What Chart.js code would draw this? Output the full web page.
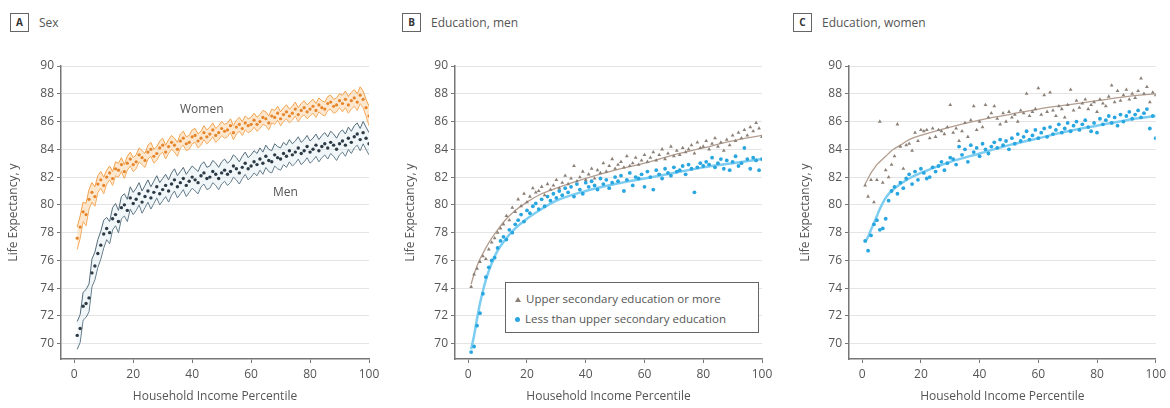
<!DOCTYPE html>
<html>
<head>
<meta charset="utf-8">
<script src="https://cdn.jsdelivr.net/npm/chart.js@4.4.1/dist/chart.umd.min.js"></script>
<style>
  html, body { margin: 0; padding: 0; background: #fff; }
  body { width: 1170px; height: 408px; position: relative; overflow: hidden;
         font-family: "Open Sans", "DejaVu Sans", sans-serif; color: #555; }
  canvas { position: absolute; top: 0; }
  .hdr { position: absolute; top: 12px; height: 20px; display: flex; align-items: center;
         font-size: 12px; color: #555; white-space: nowrap; }
  .hdr .box { width: 19px; height: 19px; border: 1px solid #666; box-sizing: border-box;
              font-weight: bold; font-size: 10px; color: #333; display: flex;
              align-items: center; justify-content: center; margin-right: 10px; }
  .lbl { position: absolute; font-size: 12px; color: #555; line-height: 14px; white-space: nowrap; }
  .legend { position: absolute; left: 505px; top: 282px; width: 254px; height: 51px;
            border: 1px solid #666; box-sizing: border-box; background: #fff;
            font-size: 11.5px; color: #555; }
  .legend .row { position: absolute; left: 9px; height: 14px; line-height: 14px;
                 display: flex; align-items: center; white-space: nowrap; }
  .legend .tri { width: 0; height: 0; border-left: 3px solid transparent;
                 border-right: 3px solid transparent; border-bottom: 5px solid #8a8078; margin-right: 5px; }
  .legend .dot { width: 5px; height: 5px; border-radius: 50%; background: #29a6df; margin-right: 5px; }
</style>
</head>
<body>
<div class="hdr" style="left:10px"><span class="box">A</span>Sex</div>
<div class="hdr" style="left:402px"><span class="box">B</span>Education, men</div>
<div class="hdr" style="left:793px"><span class="box">C</span>Education, women</div>

<canvas id="chartA" width="390" height="408" style="left:0"></canvas>
<canvas id="chartB" width="390" height="408" style="left:390px"></canvas>
<canvas id="chartC" width="390" height="408" style="left:780px"></canvas>

<div class="lbl" style="left:180px; top:102px">Women</div>
<div class="lbl" style="left:273px; top:185px">Men</div>

<div class="legend">
  <div class="row" style="top:9px"><span class="tri"></span>Upper secondary education or more</div>
  <div class="row" style="top:29px"><span class="dot"></span>Less than upper secondary education</div>
</div>

<script>
// Household income percentiles (x positions of every point)
const percentiles = [
  1, 2, 3, 4, 5, 6, 7, 8, 9, 10, 11, 12, 13, 14, 15, 16, 17, 18, 19, 20,
  21, 22, 23, 24, 25, 26, 27, 28, 29, 30, 31, 32, 33, 34, 35, 36, 37, 38, 39, 40,
  41, 42, 43, 44, 45, 46, 47, 48, 49, 50, 51, 52, 53, 54, 55, 56, 57, 58, 59, 60,
  61, 62, 63, 64, 65, 66, 67, 68, 69, 70, 71, 72, 73, 74, 75, 76, 77, 78, 79, 80,
  81, 82, 83, 84, 85, 86, 87, 88, 89, 90, 91, 92, 93, 94, 95, 96, 97, 98, 99, 100
];

const xTicks = [0, 20, 40, 60, 80, 100];
const yTicks = [70, 72, 74, 76, 78, 80, 82, 84, 86, 88, 90];

// Panel A: life expectancy by sex, with confidence bands
const womenMid = [
  77.6, 78.4, 79.5, 79.3, 80.4, 80.9, 80.6, 81.5, 81.8, 81.4,
  82.0, 82.3, 81.9, 82.6, 82.5, 82.9, 82.4, 83.0, 83.3, 82.9,
  83.1, 83.6, 83.4, 83.2, 83.8, 84.0, 83.5, 83.7, 84.1, 84.3,
  83.8, 84.2, 84.5, 84.3, 84.0, 84.6, 84.8, 84.4, 84.5, 84.9,
  85.0, 84.6, 84.8, 85.2, 84.9, 85.1, 85.4, 85.0, 85.2, 85.5,
  85.3, 85.4, 85.7, 85.2, 85.6, 85.8, 85.5, 85.9, 85.7, 85.8,
  86.1, 85.8, 86.0, 86.3, 86.2, 85.9, 86.4, 86.3, 86.6, 86.2,
  86.5, 86.7, 86.4, 86.6, 86.9, 86.5, 86.8, 87.0, 86.7, 86.9,
  87.1, 86.8, 87.2, 87.0, 86.9, 87.3, 87.4, 87.1, 87.2, 87.5,
  87.3, 87.6, 87.2, 87.5, 87.7, 87.4, 87.9, 87.6, 87.0, 86.4
];
const womenHigh = [
  78.4, 79.2, 80.2, 80.1, 81.1, 81.6, 81.3, 82.1, 82.4, 82.0,
  82.5, 82.8, 82.4, 83.1, 83.0, 83.4, 82.9, 83.5, 83.8, 83.4,
  83.6, 84.1, 83.9, 83.7, 84.3, 84.5, 84.0, 84.2, 84.6, 84.8,
  84.3, 84.7, 85.0, 84.8, 84.5, 85.1, 85.3, 84.9, 85.0, 85.4,
  85.5, 85.1, 85.3, 85.7, 85.4, 85.6, 85.9, 85.5, 85.7, 86.0,
  85.8, 85.9, 86.2, 85.7, 86.1, 86.3, 86.0, 86.4, 86.2, 86.3,
  86.6, 86.3, 86.5, 86.8, 86.7, 86.4, 86.9, 86.8, 87.1, 86.7,
  87.0, 87.2, 86.9, 87.1, 87.4, 87.0, 87.3, 87.5, 87.2, 87.4,
  87.6, 87.3, 87.7, 87.5, 87.4, 87.8, 87.9, 87.6, 87.7, 88.0,
  87.9, 88.2, 87.8, 88.1, 88.3, 88.0, 88.5, 88.2, 87.6, 87.1
];
const womenLow = [
  76.8, 77.6, 78.8, 78.5, 79.7, 80.2, 79.9, 80.9, 81.2, 80.8,
  81.5, 81.8, 81.4, 82.1, 82.0, 82.4, 81.9, 82.5, 82.8, 82.4,
  82.6, 83.1, 82.9, 82.7, 83.3, 83.5, 83.0, 83.2, 83.6, 83.8,
  83.3, 83.7, 84.0, 83.8, 83.5, 84.1, 84.3, 83.9, 84.0, 84.4,
  84.5, 84.1, 84.3, 84.7, 84.4, 84.6, 84.9, 84.5, 84.7, 85.0,
  84.8, 84.9, 85.2, 84.7, 85.1, 85.3, 85.0, 85.4, 85.2, 85.3,
  85.6, 85.3, 85.5, 85.8, 85.7, 85.4, 85.9, 85.8, 86.1, 85.7,
  86.0, 86.2, 85.9, 86.1, 86.4, 86.0, 86.3, 86.5, 86.2, 86.4,
  86.6, 86.3, 86.7, 86.5, 86.4, 86.8, 86.9, 86.6, 86.7, 87.0,
  86.7, 87.0, 86.6, 86.9, 87.1, 86.8, 87.3, 87.0, 86.4, 85.7
];
const menMid = [
  70.6, 71.1, 72.7, 72.9, 73.3, 75.1, 75.6, 76.5, 77.1, 77.9,
  78.3, 78.0, 79.0, 79.3, 78.8, 79.8, 80.0, 79.6, 80.5, 80.1,
  80.4, 80.8, 80.2, 80.6, 81.0, 80.5, 80.9, 81.3, 80.8, 81.1,
  81.4, 81.0, 81.5, 81.8, 81.3, 81.6, 81.9, 81.4, 81.7, 82.0,
  81.8, 81.6, 82.1, 82.3, 81.9, 82.0, 82.4, 82.2, 81.9, 82.3,
  82.5, 82.2, 82.4, 82.8, 82.6, 82.3, 82.7, 83.0, 82.6, 82.8,
  83.1, 82.9, 83.3, 83.0, 83.5, 83.2, 83.1, 83.6, 83.4, 83.3,
  83.7, 83.5, 83.9, 83.6, 83.8, 84.1, 83.7, 83.9, 84.2, 83.8,
  84.0, 84.3, 83.9, 84.2, 84.4, 84.1, 84.5, 84.3, 84.0, 84.4,
  84.6, 84.3, 84.8, 84.5, 84.9, 85.1, 84.7, 85.2, 84.8, 84.4
];
const menHigh = [
  71.6, 72.1, 73.7, 73.9, 74.3, 76.1, 76.6, 77.5, 78.1, 78.9,
  79.1, 78.8, 79.8, 80.1, 79.6, 80.6, 80.8, 80.4, 81.3, 80.9,
  81.2, 81.6, 81.0, 81.4, 81.8, 81.3, 81.7, 82.1, 81.6, 81.9,
  82.2, 81.8, 82.3, 82.6, 82.1, 82.4, 82.7, 82.2, 82.5, 82.8,
  82.6, 82.4, 82.9, 83.1, 82.7, 82.8, 83.2, 83.0, 82.7, 83.1,
  83.3, 83.0, 83.2, 83.6, 83.4, 83.1, 83.5, 83.8, 83.4, 83.6,
  83.9, 83.7, 84.1, 83.8, 84.3, 84.0, 83.9, 84.4, 84.2, 84.1,
  84.5, 84.3, 84.7, 84.4, 84.6, 84.9, 84.5, 84.7, 85.0, 84.6,
  84.8, 85.1, 84.7, 85.0, 85.2, 84.9, 85.3, 85.1, 84.8, 85.2,
  85.4, 85.1, 85.6, 85.3, 85.7, 85.9, 85.5, 86.0, 85.6, 85.2
];
const menLow = [
  69.6, 70.1, 71.7, 71.9, 72.3, 74.1, 74.6, 75.5, 76.1, 76.9,
  77.5, 77.2, 78.2, 78.5, 78.0, 79.0, 79.2, 78.8, 79.7, 79.3,
  79.6, 80.0, 79.4, 79.8, 80.2, 79.7, 80.1, 80.5, 80.0, 80.3,
  80.6, 80.2, 80.7, 81.0, 80.5, 80.8, 81.1, 80.6, 80.9, 81.2,
  81.0, 80.8, 81.3, 81.5, 81.1, 81.2, 81.6, 81.4, 81.1, 81.5,
  81.7, 81.4, 81.6, 82.0, 81.8, 81.5, 81.9, 82.2, 81.8, 82.0,
  82.3, 82.1, 82.5, 82.2, 82.7, 82.4, 82.3, 82.8, 82.6, 82.5,
  82.9, 82.7, 83.1, 82.8, 83.0, 83.3, 82.9, 83.1, 83.4, 83.0,
  83.2, 83.5, 83.1, 83.4, 83.6, 83.3, 83.7, 83.5, 83.2, 83.6,
  83.8, 83.5, 84.0, 83.7, 84.1, 84.3, 83.9, 84.4, 84.0, 83.6
];

// Panel B: men by education
const menUpperSec = [
  74.1, 75.0, 75.4, 75.9, 76.3, 76.1, 76.8, 77.3, 77.6, 78.0,
  78.3, 78.6, 79.2, 78.9, 79.8, 79.5, 80.4, 79.9, 80.8, 80.2,
  80.6, 81.2, 80.9, 81.0, 81.3, 80.7, 81.5, 81.1, 81.4, 81.8,
  81.2, 81.6, 82.1, 81.5, 81.9, 82.8, 81.7, 82.0, 82.4, 81.8,
  82.2, 82.6, 81.9, 82.5, 82.3, 83.0, 82.4, 82.8, 83.3, 82.6,
  82.9, 83.1, 82.7, 83.5, 82.8, 83.0, 83.4, 82.9, 83.2, 83.6,
  83.1, 83.4, 83.8, 83.2, 83.6, 84.0, 83.3, 83.7, 84.2, 83.5,
  83.9, 83.6, 84.1, 83.8, 84.0, 84.3, 83.7, 84.5, 84.1, 84.2,
  84.6, 84.0, 84.4, 84.8, 84.2, 84.5, 83.9, 84.7, 84.3, 85.0,
  84.6, 85.2, 84.8, 85.4, 85.0, 85.6, 85.3, 85.9, 85.5, 84.9
];
const menLessSec = [
  69.4, 69.8, 71.3, 72.2, 73.6, 74.8, 75.5, 76.0, 76.2, 76.9,
  77.4, 77.7, 77.5, 78.2, 78.0, 78.6, 78.9, 79.3, 78.8, 79.6,
  79.4, 79.9, 80.1, 79.7, 80.4, 79.9, 80.6, 80.3, 80.8, 80.5,
  81.0, 80.7, 81.2, 80.9, 81.3, 80.6, 81.5, 81.1, 80.8, 81.6,
  81.3, 81.7, 81.4, 81.1, 81.9, 81.5, 81.8, 81.2, 81.6, 82.0,
  81.7, 82.1, 81.0, 81.8, 82.3, 81.4, 82.0, 81.9, 82.2, 81.3,
  82.4, 82.0, 81.1, 82.5, 82.2, 81.9, 82.6, 82.3, 82.1, 82.7,
  82.4, 82.5, 82.8, 82.2, 82.9, 82.6, 80.9, 82.7, 83.0, 82.8,
  83.1, 82.9, 83.4, 82.7, 83.0, 83.3, 82.6, 83.2, 82.5, 83.1,
  83.5, 82.8, 83.0, 84.1, 83.3, 82.6, 83.4, 83.2, 82.5, 83.3
];
const menFitPct      = [1, 2, 3, 4, 5, 6, 8, 10, 13, 16, 20, 25, 30, 40, 50, 60, 70, 80, 90, 100];
const menUpperFit    = [74.3, 75.0, 75.6, 76.1, 76.5, 76.9, 77.6, 78.2, 79.0, 79.6, 80.2, 80.8, 81.2, 81.9, 82.5, 83.0, 83.6, 84.1, 84.6, 85.0];
const menLessFit     = [69.6, 70.6, 71.8, 72.9, 73.8, 74.6, 75.8, 76.7, 77.6, 78.3, 79.0, 79.7, 80.3, 81.0, 81.5, 81.9, 82.3, 82.7, 83.0, 83.3];

// Panel C: women by education
const womenUpperSec = [
  81.4, 80.6, 81.8, 80.2, 81.8, 86.0, 81.6, 82.5, 82.0, 82.9,
  83.5, 85.8, 84.2, 82.6, 84.3, 84.4, 83.9, 85.2, 84.6, 85.4,
  85.3, 85.4, 84.8, 85.5, 84.9, 85.4, 85.3, 85.1, 85.6, 87.2,
  85.2, 85.5, 84.6, 85.3, 85.9, 84.9, 86.1, 87.1, 85.4, 86.0,
  85.6, 87.2, 86.3, 86.6, 87.1, 86.2, 85.8, 86.6, 86.0, 86.7,
  86.3, 86.5, 86.0, 86.8, 86.6, 88.0, 86.4, 86.7, 86.9, 88.4,
  86.5, 87.9, 86.7, 88.1, 86.8, 86.4, 87.1, 86.9, 86.3, 87.2,
  88.3, 86.8, 87.5, 87.0, 87.3, 87.6, 86.9, 87.2, 87.4, 86.7,
  87.6, 87.3, 87.1, 87.8, 88.6, 87.4, 88.2, 87.5, 87.9, 88.3,
  87.6, 88.0, 87.7, 88.2, 89.1, 88.0, 88.5, 87.4, 88.1, 87.9
];
const womenLessSec = [
  77.4, 76.7, 77.8, 78.6, 78.9, 78.2, 78.3, 79.0, 80.3, 81.0,
  81.3, 80.8, 81.6, 81.2, 81.9, 82.2, 81.5, 82.4, 81.8, 82.6,
  82.3, 81.9, 82.0, 82.7, 82.4, 82.8, 83.1, 82.5, 83.0, 83.4,
  83.3, 82.9, 84.2, 83.6, 84.0, 83.1, 84.3, 83.8, 84.1, 83.5,
  84.4, 84.0, 83.7, 84.2, 84.5, 84.1, 84.7, 84.3, 84.6, 84.0,
  84.8, 84.4, 85.1, 84.6, 84.9, 85.3, 84.7, 85.0, 85.4, 84.8,
  85.2, 85.5, 84.9, 85.6, 85.1, 85.4, 85.8, 85.2, 85.5, 85.9,
  85.3, 85.7, 86.0, 85.4, 85.8, 86.1, 85.6, 85.3, 85.9, 85.2,
  86.2, 85.8, 86.1, 86.4, 85.9, 86.3, 85.7, 86.5, 86.0, 86.4,
  86.7, 86.2, 86.5, 86.8, 86.3, 86.6, 86.9, 85.5, 86.4, 84.8
];
const womenFitPct    = [1, 2, 3, 4, 5, 6, 8, 10, 13, 16, 20, 30, 40, 50, 60, 70, 80, 90, 100];
const womenUpperFit  = [81.5, 81.9, 82.3, 82.6, 82.9, 83.1, 83.5, 83.9, 84.3, 84.7, 85.0, 85.6, 86.1, 86.5, 86.9, 87.2, 87.5, 87.8, 88.0];
const womenLessFit   = [77.3, 77.7, 78.2, 78.7, 79.2, 79.7, 80.5, 81.0, 81.5, 81.9, 82.3, 83.1, 83.7, 84.3, 84.8, 85.3, 85.7, 86.1, 86.4];

const FONT = { family: '"Open Sans", "DejaVu Sans", sans-serif', size: 12 };
const TEXT = '#555';

function pts(xs, ys) { return ys.map((y, i) => ({ x: xs[i], y })); }

function panelOptions(yWidth, yTitlePad, rightPad) {
  return {
    responsive: false,
    animation: false,
    devicePixelRatio: 1,
    layout: { padding: { top: 66, left: 0, right: rightPad, bottom: 0 } },
    plugins: { legend: { display: false }, tooltip: { enabled: false } },
    elements: { line: { tension: 0 } },
    scales: {
      x: {
        type: 'linear', min: -4.5, max: 100,
        afterBuildTicks: s => { s.ticks = xTicks.map(v => ({ value: v })); },
        afterFit: s => { s.height = 49; },
        grid: { drawOnChartArea: false, drawTicks: true, tickLength: 4, tickColor: '#777' },
        border: { display: true, color: '#777', width: 1.5 },
        ticks: { color: TEXT, font: FONT, padding: 4, maxRotation: 0 },
        title: { display: true, text: 'Household Income Percentile', color: TEXT, font: FONT,
                 padding: { top: 0, bottom: 4 } }
      },
      y: {
        type: 'linear', min: 68.9, max: 90,
        afterBuildTicks: s => { s.ticks = yTicks.map(v => ({ value: v })); },
        afterFit: s => { s.width = yWidth; },
        grid: { color: '#e4e4e4', lineWidth: 1, drawTicks: true, tickLength: 4, tickColor: '#777' },
        border: { display: true, color: '#777', width: 1.5 },
        ticks: { color: TEXT, font: FONT, padding: 3 },
        title: { display: true, text: 'Life Expectancy, y', color: TEXT, font: FONT,
                 padding: { top: yTitlePad, bottom: 0 } }
      }
    }
  };
}

// A: Sex
new Chart(document.getElementById('chartA'), {
  type: 'line',
  data: {
    datasets: [
      { data: pts(percentiles, womenMid), showLine: false, pointRadius: 1.6, pointBorderWidth: 0,
        pointBackgroundColor: '#e6862c' },
      { data: pts(percentiles, menMid), showLine: false, pointRadius: 1.7, pointBorderWidth: 0,
        pointBackgroundColor: '#2c3b45' },
      { data: pts(percentiles, womenHigh), borderColor: '#f2a14c', borderWidth: 1, pointRadius: 0,
        fill: '+1', backgroundColor: 'rgba(251, 210, 160, 0.5)' },
      { data: pts(percentiles, womenLow), borderColor: '#f2a14c', borderWidth: 1, pointRadius: 0, fill: false },
      { data: pts(percentiles, menHigh), borderColor: '#546d7b', borderWidth: 1, pointRadius: 0,
        fill: '+1', backgroundColor: 'rgba(210, 225, 234, 0.3)' },
      { data: pts(percentiles, menLow), borderColor: '#546d7b', borderWidth: 1, pointRadius: 0, fill: false }
    ]
  },
  options: panelOptions(61, 6, 21)
});

// B: Education, men
new Chart(document.getElementById('chartB'), {
  type: 'line',
  data: {
    datasets: [
      { data: pts(percentiles, menUpperSec), showLine: false, pointStyle: 'triangle', pointRadius: 2.2,
        pointBorderWidth: 0, pointBackgroundColor: '#8a8078' },
      { data: pts(percentiles, menLessSec), showLine: false, pointRadius: 1.9,
        pointBorderWidth: 0, pointBackgroundColor: '#29a6df' },
      { data: pts(menFitPct, menUpperFit), borderColor: '#b39d8f', borderWidth: 1.3, pointRadius: 0,
        cubicInterpolationMode: 'monotone', fill: false },
      { data: pts(menFitPct, menLessFit), borderColor: 'rgba(110, 200, 240, 0.9)', borderWidth: 2.5, pointRadius: 0,
        cubicInterpolationMode: 'monotone', fill: false }
    ]
  },
  options: panelOptions(65, 13, 18)
});

// C: Education, women
new Chart(document.getElementById('chartC'), {
  type: 'line',
  data: {
    datasets: [
      { data: pts(percentiles, womenUpperSec), showLine: false, pointStyle: 'triangle', pointRadius: 2.2,
        pointBorderWidth: 0, pointBackgroundColor: '#8a8078' },
      { data: pts(percentiles, womenLessSec), showLine: false, pointRadius: 1.9,
        pointBorderWidth: 0, pointBackgroundColor: '#29a6df' },
      { data: pts(womenFitPct, womenUpperFit), borderColor: '#b39d8f', borderWidth: 1.3, pointRadius: 0,
        cubicInterpolationMode: 'monotone', fill: false },
      { data: pts(womenFitPct, womenLessFit), borderColor: 'rgba(110, 200, 240, 0.9)', borderWidth: 2.5, pointRadius: 0,
        cubicInterpolationMode: 'monotone', fill: false }
    ]
  },
  options: panelOptions(69, 18, 12)
});
</script>
</body>
</html>
